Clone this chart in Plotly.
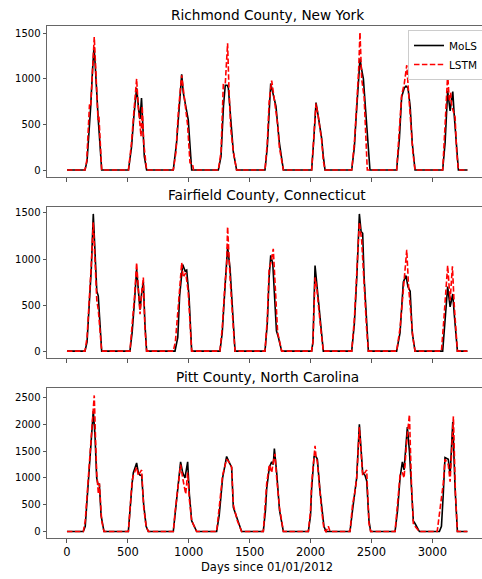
import plotly.graph_objects as go
from plotly.subplots import make_subplots

titles = ["Richmond County, New York", "Fairfield County, Connecticut", "Pitt County, North Carolina"]
x_label = "Days since 01/01/2012"
series_names = ["MoLS", "LSTM"]

richmond_mols_days = [0,148,165,180,195,210,222,232,245,257,270,285,
    505,530,550,572,590,600,612,621,635,654,
    873,900,920,942,955,969,996,1024,
    1243,1265,1285,1300,1315,1325,1345,1366,1393,
    1626,1645,1660,1673,1690,1705,1716,1730,1744,1777,
    2009,2025,2045,2060,2075,2091,2105,2119,
    2338,2360,2373,2390,2406,2420,2434,2450,2470,2488,
    2707,2730,2748,2770,2784,2800,2818,2835,2858,
    3085,3105,3126,3146,3168,3180,3195,3214,3288]
richmond_mols = [0,0,100,350,700,1100,1350,1150,800,550,300,0,
    0,250,600,900,650,560,790,500,150,0,
    0,300,700,1050,850,750,550,0,
    0,150,700,930,930,900,500,200,0,
    0,250,650,950,850,750,700,500,300,0,
    0,300,740,620,500,350,150,0,
    0,250,550,900,1220,1100,1000,700,300,0,
    0,350,800,900,920,900,700,300,0,
    0,300,870,650,860,600,300,0,0]

richmond_lstm_days = [0,148,162,175,185,195,210,224,235,245,255,262,272,285,
    505,530,550,572,585,600,608,618,630,654,
    873,895,915,942,955,969,990,1010,1030,1040,
    1243,1265,1284,1300,1319,1330,1345,1366,1393,
    1626,1645,1660,1681,1695,1716,1730,1744,1777,
    2009,2025,2045,2060,2075,2091,2105,2119,
    2338,2360,2373,2395,2406,2420,2440,2466,
    2707,2730,2748,2770,2790,2805,2818,2840,2858,
    3085,3105,3126,3140,3150,3160,3187,3200,3214,3288]
richmond_lstm = [0,0,100,450,720,700,1100,1460,1150,750,550,600,250,0,
    0,300,650,1000,700,500,370,700,300,0,
    0,200,650,1040,900,750,500,80,70,0,
    0,200,950,950,1390,900,450,200,0,
    0,300,750,980,850,600,500,250,0,
    0,350,730,620,480,330,100,0,
    0,300,580,1100,1510,1000,800,0,
    0,450,820,950,1150,850,600,200,0,
    0,500,1050,750,850,700,580,200,0,0]

fairfield_mols_days = [0,148,165,185,200,216,230,245,257,268,285,
    517,535,555,572,590,600,615,627,640,654,
    887,910,925,950,970,983,1002,1024,
    1256,1275,1298,1319,1339,1366,1380,
    1626,1645,1660,1673,1690,1705,1720,1736,1763,
    2009,2020,2037,2050,2065,2083,2105,
    2338,2360,2380,2401,2415,2428,2440,2460,2475,
    2707,2735,2762,2784,2800,2818,2835,2858,
    3085,3105,3126,3146,3168,3180,3206,3288]
fairfield_mols = [0,0,100,500,900,1490,1000,650,600,300,0,
    0,200,550,890,600,450,650,750,300,0,
    0,150,600,940,870,880,600,0,
    0,200,700,1130,900,300,0,
    0,300,800,1040,950,600,220,150,0,
    0,100,930,750,500,300,0,
    0,300,800,1490,1300,1280,800,300,0,
    0,200,750,820,700,650,200,0,
    0,300,700,480,620,400,0,0]

fairfield_lstm_days = [0,148,165,185,200,216,230,245,257,270,285,
    517,535,555,572,590,600,615,627,640,654,
    873,890,915,942,955,975,995,1024,
    1256,1275,1298,1310,1319,1339,1366,1380,
    1626,1645,1660,1673,1694,1710,1730,1763,
    2009,2020,2037,2050,2065,2083,2105,
    2338,2360,2380,2401,2420,2440,2460,2475,
    2707,2735,2762,2790,2805,2818,2840,2858,
    3075,3095,3126,3146,3165,3180,3206,3288]
fairfield_lstm = [0,0,150,550,950,1400,900,550,450,200,0,
    0,250,600,960,550,400,650,800,250,0,
    0,100,500,960,800,850,650,0,
    0,250,750,900,1350,800,250,0,
    0,350,900,950,1110,700,200,0,
    0,100,800,700,450,250,0,
    0,350,900,1400,1200,700,250,0,
    0,250,700,1100,700,500,150,0,
    0,350,930,550,920,500,0,0]

pitt_mols_days = [0,134,150,165,183,200,216,230,244,255,266,280,304,
    504,517,535,545,572,586,600,613,630,650,668,
    873,887,901,933,950,969,991,1005,1024,1050,1065,
    1229,1250,1278,1311,1330,1352,1366,1399,1434,
    1612,1630,1640,1662,1681,1694,1703,1722,1745,1777,
    1982,2000,2009,2029,2045,2056,2078,2091,2110,2127,
    2324,2345,2365,2379,2401,2428,2447,2461,2480,2494,
    2694,2715,2735,2754,2768,2795,2812,2844,2858,2894,
    3058,3075,3090,3104,3131,3146,3168,3187,3206,3288]
pitt_mols = [0,0,100,600,1200,1700,2250,1800,1000,880,880,300,0,
    0,450,900,1100,1280,1100,1050,1050,500,100,0,
    0,300,600,1300,1100,1000,1300,700,200,50,0,
    0,300,1000,1400,1300,1200,450,250,0,
    0,400,800,1200,1300,1250,1550,1100,400,0,
    0,300,800,1400,1400,1350,750,500,100,0,
    0,400,800,1000,2000,1100,1050,950,200,0,
    0,400,1000,1300,1150,1950,1500,200,150,0,
    0,100,700,1380,1350,1050,2050,800,0,0]

pitt_lstm_days = [0,134,150,165,183,200,224,235,244,258,266,285,304,
    504,517,535,545,572,586,600,613,630,650,668,
    873,887,901,933,950,975,991,1005,1024,1050,1065,
    1229,1250,1278,1311,1330,1352,1366,1399,1434,
    1612,1630,1640,1662,1681,1694,1708,1722,1745,1777,
    1982,2000,2009,2037,2045,2056,2078,2091,2110,2127,2146,2160,
    2324,2345,2365,2379,2401,2428,2447,2461,2480,2494,
    2694,2715,2735,2754,2768,2790,2812,2830,2844,2858,2894,
    3040,3058,3090,3104,3131,3146,3173,3190,3206,3288]
pitt_lstm = [0,0,200,700,1300,1800,2540,1700,1100,700,900,200,0,
    0,400,950,1050,1200,1050,1100,1150,450,100,0,
    0,350,650,1250,1000,700,1100,600,200,80,0,
    0,400,1050,1350,1300,1200,500,200,0,
    0,500,900,1250,1100,1300,1450,1000,450,0,
    0,400,900,1600,1400,1300,650,400,50,0,100,0,
    0,500,750,1000,1950,1050,1100,1150,150,0,
    0,500,1050,1100,1000,1700,2180,800,150,100,0,
    0,300,900,1350,1250,930,2150,700,0,0]

y_ticks = [[0, 500, 1000, 1500], [0, 500, 1000, 1500], [0, 500, 1000, 1500, 2000, 2500]]
x_ticks = [0, 500, 1000, 1500, 2000, 2500, 3000]

panels = [
    (richmond_mols_days, richmond_mols, richmond_lstm_days, richmond_lstm),
    (fairfield_mols_days, fairfield_mols, fairfield_lstm_days, fairfield_lstm),
    (pitt_mols_days, pitt_mols, pitt_lstm_days, pitt_lstm),
]
for a, b, c, d in panels:
    if len(a) != len(b) or len(c) != len(d):
        raise ValueError((len(a), len(b), len(c), len(d)))

W, H = 488, 579
L, R, T, B = 47, 1, 26, 41
ph = H - T - B

def fy(py):
    return (H - B - py) / ph

fig = make_subplots(rows=3, cols=1, shared_xaxes=True)
for i, (md, mv, ld, lv) in enumerate(panels):
    fig.add_trace(go.Scatter(x=md, y=mv, mode="lines", name=series_names[0],
                             line=dict(color="black", width=1.6),
                             showlegend=(i == 0)), row=i + 1, col=1)
    fig.add_trace(go.Scatter(x=ld, y=lv, mode="lines", name=series_names[1],
                             line=dict(color="red", width=1.6, dash="5.5px,2.4px"),
                             showlegend=(i == 0)), row=i + 1, col=1)

domains = [(fy(177), fy(26)), (fy(358), fy(207)), (fy(538), fy(388))]
y_ranges = [[-76, 1580], [-75, 1565], [-120, 2678]]
yfont = dict(family="DejaVu Sans", size=10, color="black")
xfont = dict(family="DejaVu Sans", size=11.5, color="black")
for i in range(3):
    fig.update_yaxes(row=i + 1, col=1, domain=list(domains[i]), range=y_ranges[i],
                     tickvals=y_ticks[i], ticks="outside", ticklen=3.5, tickwidth=1,
                     tickcolor="#555", showgrid=False, zeroline=False,
                     showline=True, linecolor="#666", linewidth=1, mirror=True,
                     tickfont=yfont)
    fig.update_xaxes(row=i + 1, col=1, range=[-164, 3449], tickvals=x_ticks,
                     ticks="outside", ticklen=3.5, tickwidth=1, tickcolor="#555",
                     showgrid=False, zeroline=False, showline=True, linecolor="#666",
                     linewidth=1, mirror=True, tickfont=xfont,
                     showticklabels=(i == 2))

title_y = [14.5, 195, 377]
ann = []
for t, py in zip(titles, title_y):
    ann.append(dict(text=t, x=0.5, y=fy(py), xref="paper", yref="paper",
                    xanchor="center", yanchor="middle", showarrow=False,
                    font=dict(family="DejaVu Sans", size=13.7, color="black")))
ann.append(dict(text=x_label, x=0.5, y=fy(567), xref="paper", yref="paper",
                xanchor="center", yanchor="middle", showarrow=False,
                font=dict(family="DejaVu Sans", size=11.5, color="black")))

fig.update_layout(
    width=W, height=H, margin=dict(l=L, r=R, t=T, b=B),
    paper_bgcolor="white", plot_bgcolor="white",
    annotations=ann,
    legend=dict(x=(408 - L) / (W - L - R), y=fy(30), xanchor="left", yanchor="top",
                bgcolor="white", bordercolor="#ccc", borderwidth=1,
                font=dict(family="DejaVu Sans", size=10.5, color="black"),
                itemwidth=30, tracegroupgap=0),
)

fig.write_html("out.html", config={"displayModeBar": False},
               post_script="document.body.style.margin='0';document.body.style.overflow='hidden';")
